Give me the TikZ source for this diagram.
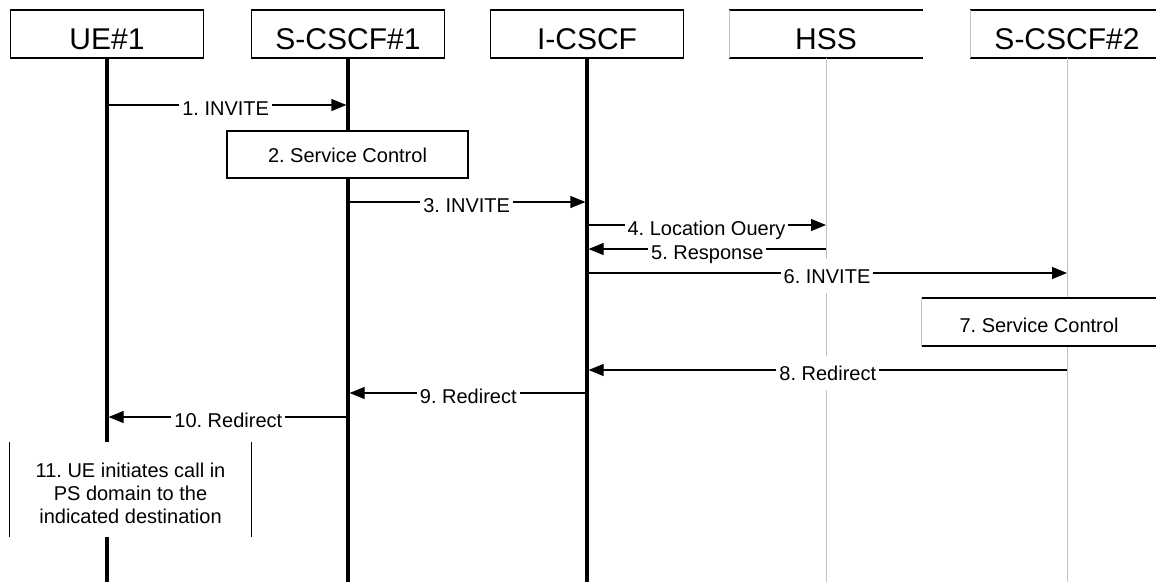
\documentclass[tikz,border=0pt]{standalone}
\usepackage{fontspec}
\setmainfont{Liberation Sans}
\usetikzlibrary{arrows.meta}
\definecolor{lgrey}{RGB}{192,192,192}
\frenchspacing
\begin{document}
\frenchspacing
\begin{tikzpicture}[x=1pt,y=-1pt,
  hdr/.style={minimum width=193pt, minimum height=48pt, inner sep=0pt, text height=30pt, text depth=0pt, font=\fontsize{30}{36}\selectfont},
  hdrbox/.style={hdr, draw=black, line width=1.6pt, fill=white},
  life/.style={line width=3.2pt, black},
  thinlife/.style={line width=1pt, lgrey},
  msg/.style={line width=1.2pt, black, -{Triangle[length=15pt,width=12pt]}},
  lbl/.style={fill=white, inner xsep=3pt, inner ysep=0pt, text height=24pt, text depth=10pt, font=\fontsize{20}{24}\selectfont, anchor=base, yshift=-10pt},
  act/.style={minimum height=48pt, inner sep=0pt, fill=white, font=\fontsize{20}{24}\selectfont, text depth=0pt},
  boxedge/.style={line width=1.5pt, black},
  greyedge/.style={line width=1pt, lgrey},
]
\useasboundingbox[fill=white] (0,0) rectangle (1156,582);

% headers
\node[hdrbox] (ue) at (107,34) {UE\#1};
\node[hdrbox] (s1) at (348,34) {S-CSCF\#1};
\node[hdrbox] (ic) at (587,34) {I-CSCF};
\node[hdr, fill=white] (hss) at (826,34) {HSS};
\node[hdr, fill=white] (s2) at (1067,34) {S-CSCF\#2};
\draw[boxedge] (hss.north west) -- (hss.north east);
\draw[boxedge] (hss.south west) -- (hss.south east);
\draw[greyedge] (hss.north west) -- (hss.south west);
\draw[boxedge] (s2.north west) -- (s2.north east);
\draw[boxedge] (s2.south west) -- (s2.south east);
\draw[greyedge] (s2.north west) -- (s2.south west);

% lifelines
\coordinate (ue-end) at (107,582);
\coordinate (s1-end) at (348,582);
\coordinate (ic-end) at (587,582);
\coordinate (hss-end) at (826,582);
\coordinate (s2-end) at (1067,582);
\draw[life] (ue.south) -- (ue-end);
\draw[life] (s1.south) -- (s1-end);
\draw[life] (ic.south) -- (ic-end);
\draw[thinlife] (hss.south) -- (hss-end);
\draw[thinlife] (s2.south) -- (s2-end);

% message end points
\coordinate (m1a) at (105,105);  \coordinate (m1b) at (346.4,105);
\coordinate (m3a) at (348,202);  \coordinate (m3b) at (585.4,202);
\coordinate (m4a) at (587,225);  \coordinate (m4b) at (826,225);
\coordinate (m5a) at (826,249);  \coordinate (m5b) at (588.6,249);
\coordinate (m6a) at (587,273);  \coordinate (m6b) at (1067,273);
\coordinate (m8a) at (1067,370); \coordinate (m8b) at (588.6,370);
\coordinate (m9a) at (587,393);  \coordinate (m9b) at (349.6,393);
\coordinate (m10a) at (348,417); \coordinate (m10b) at (108.6,417);

\draw[msg] (m1a) -- (m1b) node[lbl, midway] {1. INVITE};

% 2. Service Control
\node[act, draw=black, line width=1.5pt, minimum width=241pt, minimum height=47pt, text height=15pt] (sc2) at (347.5,154.5) {2. Service Control};

\draw[msg] (m3a) -- (m3b) node[lbl, midway] {3. INVITE};
\draw[msg] (m4a) -- (m4b) node[lbl, midway] {4. Location Query};
\draw[msg] (m5a) -- (m5b) node[lbl, midway] {5. Response};
\draw[msg] (m6a) -- (m6b) node[lbl, midway] {6. INVITE};

% 7. Service Control
\node[act, minimum width=234pt, text height=20pt] (sc7) at (1039,322) {7. Service Control};
\draw[boxedge] (sc7.north west) -- (sc7.north east);
\draw[boxedge] (sc7.south west) -- (sc7.south east);
\draw[greyedge] (sc7.north west) -- (sc7.south west);

\draw[msg] (m8a) -- (m8b) node[lbl, midway] {8. Redirect};
\draw[msg] (m9a) -- (m9b) node[lbl, midway] {9. Redirect};
\draw[msg] (m10a) -- (m10b) node[lbl, midway] {10. Redirect};

% 11. box
\node[fill=white, minimum width=241pt, minimum height=95pt, inner sep=0pt] (b11) at (130.5,489.5) {};
\draw[line width=1.3pt] (b11.north west) -- (b11.south west);
\draw[line width=1.3pt] (b11.north east) -- (b11.south east);
\node[font=\fontsize{20}{23}\selectfont, align=center, inner sep=0pt] (t11) at (130.5,493) {11. UE initiates call in\\PS domain to the\\indicated destination};
\end{tikzpicture}
\end{document}
